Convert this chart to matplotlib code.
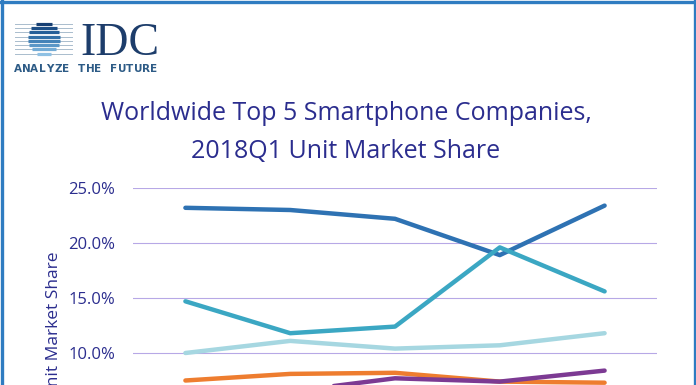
import matplotlib.pyplot as plt
import numpy as np

quarters = ['2017Q1', '2017Q2', '2017Q3', '2017Q4', '2018Q1']
samsung = [23.2, 23.0, 22.2, 18.9, 23.4]
apple = [14.7, 11.8, 12.4, 19.6, 15.6]
huawei = [10.0, 11.1, 10.4, 10.7, 11.8]
oppo = [7.5, 8.1, 8.2, 7.4, 7.3]
xiaomi = [4.3, 6.5, 7.7, 7.4, 8.4]
yticks = [0, 5, 10, 15, 20, 25]

navy = '#2b2d8e'
font = 'Open Sans'

fig = plt.figure(figsize=(6.96, 3.85), dpi=100)
W, H = 696, 385

# main plot (bottom part runs off the canvas, like the cropped original)
ax = fig.add_axes([133 / W, (H - 463) / H, 524 / W, 275 / H])
x = np.arange(len(quarters))
series = [(samsung, '#2e72b3'), (apple, '#3ba7c3'), (huawei, '#a6d7e1'),
          (oppo, '#ee7d2f'), (xiaomi, '#7c3a93')]
for vals, col in series:
    ax.plot(x, vals, color=col, lw=3.2, solid_capstyle='round', solid_joinstyle='round', zorder=3)
ax.set_xlim(-0.5, 4.5)
ax.set_ylim(0, 25)
ax.set_yticks(yticks)
ax.set_yticklabels(['%.1f%%' % v for v in yticks], color=navy, fontsize=12, family=font)
ax.set_xticks(x)
ax.set_xticklabels([])  # quarter labels fall below the cropped area
ax.tick_params(length=0, pad=13)
ax.grid(axis='y', color='#b7a8e6', lw=0.8)
ax.set_axisbelow(True)
for s in ax.spines.values():
    s.set_visible(False)
ax.set_ylabel('Unit Market Share', color=navy, fontsize=12.5, family=font)
ax.yaxis.set_label_coords(-0.135, 0.5)

# title
fig.text(346 / W, 1 - 120 / H, 'Worldwide Top 5 Smartphone Companies,', ha='center',
         va='baseline', fontsize=18, color=navy, family=font)
fig.text(346 / W, 1 - 158 / H, '2018Q1 Unit Market Share', ha='center',
         va='baseline', fontsize=18, color=navy, family=font)

# overlay in pixel coords for logo and frame
ov = fig.add_axes([0, 0, 1, 1], zorder=10)
ov.set_xlim(0, W)
ov.set_ylim(H, 0)
ov.axis('off')
ov.patch.set_alpha(0)

# frame
fc = '#2f7cc1'
ov.plot([1.5, 1.5], [0, H], color=fc, lw=2.4)
ov.plot([694.5, 694.5], [0, H], color=fc, lw=2.4)
ov.plot([0, W], [1.5, 1.5], color=fc, lw=2.4)

# logo globe
cx, cy, r = 44, 38.5, 16.5
stripe_y = np.linspace(24, 53.5, 8)
shades = ['#163f73', '#1c4e86', '#255f98', '#3270a8', '#4583b8', '#5b97c7', '#74acd6', '#8fc1e4']
for yy, c in zip(stripe_y, shades):
    ov.plot([15, 72], [yy, yy], color='#a9bccd', lw=0.7)
    half = np.sqrt(max(r ** 2 - (yy - cy) ** 2, 0))
    ov.plot([cx - half, cx + half], [yy, yy], color=c, lw=2.3, solid_capstyle='butt')
ov.text(80, 55, 'IDC', fontsize=33, family='Liberation Serif', color='#1d3d6b', va='baseline', ha='left')
tag = 'ANALYZE THE FUTURE'
for i, ch in enumerate(tag):
    ov.text(18 + i * 8.0, 72, ch, fontsize=7.5, color='#2d5b86', ha='center', va='baseline',
            family='DejaVu Sans', fontweight='bold')

fig.savefig('out.png', dpi=100)
